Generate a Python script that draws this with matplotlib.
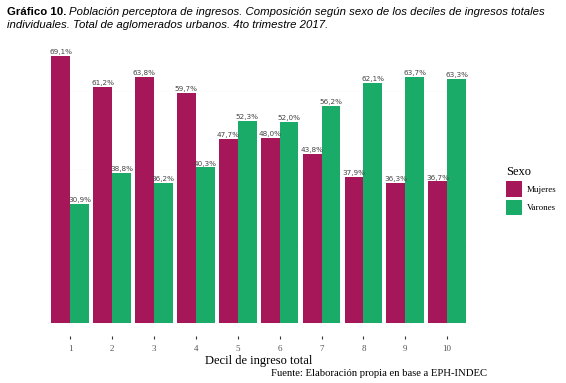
import matplotlib.pyplot as plt
import numpy as np

deciles = ["1", "2", "3", "4", "5", "6", "7", "8", "9", "10"]
mujeres = [69.1, 61.2, 63.8, 59.7, 47.7, 48.0, 43.8, 37.9, 36.3, 36.7]
varones = [30.9, 38.8, 36.2, 40.3, 52.3, 52.0, 56.2, 62.1, 63.7, 63.3]

col_m = "#A6175A"
col_v = "#1AAB68"

fig = plt.figure(figsize=(5.66, 3.83), dpi=100)
ax = fig.add_axes([0.0795, 0.122, 0.755, 0.766])

x = np.arange(1, len(deciles) + 1)
w = 0.45
bm = ax.bar(x - w / 2, mujeres, width=w, color=col_m, label="Mujeres", zorder=2)
bv = ax.bar(x + w / 2, varones, width=w, color=col_v, label="Varones", zorder=2)

def fmt(v):
    return f"{v:.1f}%".replace(".", ",")

for bars, vals in [(bm, mujeres), (bv, varones)]:
    for b, v in zip(bars, vals):
        ax.text(b.get_x() + b.get_width() / 2, v + 0.2, fmt(v), ha="center", va="bottom",
                fontsize=5.2, color="#444444", family="DejaVu Sans", zorder=3)

ax.set_xlim(0.4, 10.6)
ax.set_ylim(-69.1 * 0.05, 69.1 * 1.05)
ax.set_xticks(x)
ax.set_xticklabels(deciles, family="Liberation Serif", fontsize=6.5, color="#555555")
ax.set_yticks([])
ax.tick_params(axis="x", length=2.5, width=0.8, color="#333333", pad=4)
for s in ax.spines.values():
    s.set_visible(False)
ax.set_axisbelow(True)
for yy in [0, 20, 40, 60]:
    ax.axhline(yy, color="#fbfbfb", lw=0.5, zorder=0)

ax.set_xlabel("Decil de ingreso total", family="Liberation Serif", fontsize=9, labelpad=1)

leg = fig.legend(handles=[bm, bv], loc="upper left", bbox_to_anchor=(0.888, 0.575),
                 frameon=False, title="Sexo", handlelength=1.8, handleheight=2.3,
                 handletextpad=0.5, labelspacing=0.3, borderaxespad=0,
                 prop={"family": "Liberation Serif", "size": 6.5})
leg.get_title().set_family("Liberation Serif")
leg.get_title().set_fontsize(9)
leg._legend_box.align = "left"

fig.text(0.861, 0.012, "Fuente: Elaboración propia en base a EPH-INDEC", ha="right", va="bottom",
         family="Liberation Serif", fontsize=7.7)

# title: bold prefix followed by italic text
t1 = fig.text(0.013, 0.962, "Gráfico 10.", ha="left", va="baseline", fontsize=8.2,
              family="Liberation Sans", fontweight="bold")
fig.canvas.draw()
bb = t1.get_window_extent()
x2 = (bb.x1 + 2.5) / fig.bbox.width
fig.text(x2, 0.962, "Población perceptora de ingresos. Composición según sexo de los deciles de ingresos totales",
         ha="left", va="baseline", fontsize=8.2, family="Liberation Sans", style="italic")
fig.text(0.013, 0.928, "individuales. Total de aglomerados urbanos. 4to trimestre 2017.",
         ha="left", va="baseline", fontsize=8.2, family="Liberation Sans", style="italic")

fig.savefig("out.png", dpi=100)
